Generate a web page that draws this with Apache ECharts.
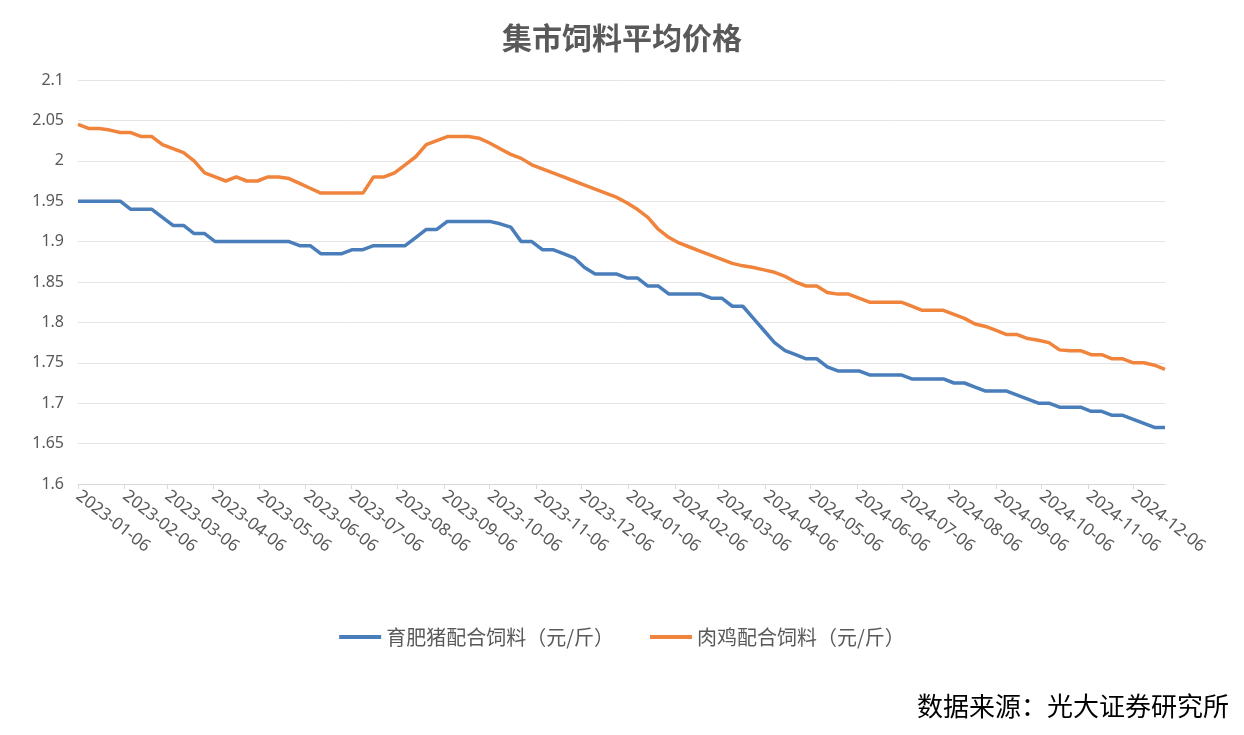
<!DOCTYPE html>
<html lang="zh">
<head>
<meta charset="UTF-8">
<title>集市饲料平均价格</title>
<style>html,body{margin:0;padding:0;background:#fff}</style>
</head>
<body>
<div id="chart" style="width:1244px;height:735px;"></div>
<script src="https://cdn.jsdelivr.net/npm/echarts@6/dist/echarts.min.js"></script>
<script>
var startDate = '2023-01-06';
var endDate = '2024-12-27';
// weekly values, every Friday from 2023-01-06
var pig = [1.95,1.95,1.95,1.95,1.95,1.94,1.94,1.94,1.93,1.92,1.92,1.91,1.91,1.90,1.90,1.90,1.90,1.90,1.90,1.90,1.90,1.895,1.895,1.885,1.885,1.885,1.89,1.89,1.895,1.895,1.895,1.895,1.905,1.915,1.915,1.925,1.925,1.925,1.925,1.925,1.922,1.918,1.90,1.90,1.89,1.89,1.885,1.88,1.868,1.86,1.86,1.86,1.855,1.855,1.845,1.845,1.835,1.835,1.835,1.835,1.83,1.83,1.82,1.82,1.805,1.79,1.775,1.765,1.76,1.755,1.755,1.745,1.74,1.74,1.74,1.735,1.735,1.735,1.735,1.73,1.73,1.73,1.73,1.725,1.725,1.72,1.715,1.715,1.715,1.71,1.705,1.70,1.70,1.695,1.695,1.695,1.69,1.69,1.685,1.685,1.68,1.675,1.67,1.67];
var chicken = [2.045,2.04,2.04,2.038,2.035,2.035,2.03,2.03,2.02,2.015,2.01,2.0,1.985,1.98,1.975,1.98,1.975,1.975,1.98,1.98,1.978,1.972,1.966,1.96,1.96,1.96,1.96,1.96,1.98,1.98,1.985,1.995,2.005,2.02,2.025,2.03,2.03,2.03,2.028,2.022,2.015,2.008,2.003,1.995,1.99,1.985,1.98,1.975,1.97,1.965,1.96,1.955,1.948,1.94,1.93,1.915,1.905,1.898,1.893,1.888,1.883,1.878,1.873,1.87,1.868,1.865,1.862,1.857,1.85,1.845,1.845,1.837,1.835,1.835,1.83,1.825,1.825,1.825,1.825,1.82,1.815,1.815,1.815,1.81,1.805,1.798,1.795,1.79,1.785,1.785,1.78,1.778,1.775,1.766,1.765,1.765,1.76,1.76,1.755,1.755,1.75,1.75,1.747,1.742];
var seriesNames = ['育肥猪配合饲料（元/斤）', '肉鸡配合饲料（元/斤）'];

// daily category axis so monthly labels land on the 6th
function fmt(d) {
  var m = d.getUTCMonth() + 1, day = d.getUTCDate();
  return d.getUTCFullYear() + '-' + (m < 10 ? '0' + m : m) + '-' + (day < 10 ? '0' + day : day);
}
var days = [];
var d = new Date(startDate + 'T00:00:00Z');
var end = new Date(endDate + 'T00:00:00Z');
while (d <= end) { days.push(fmt(d)); d = new Date(d.getTime() + 86400000); }

function toDaily(weekly) {
  return days.map(function (s, i) { return i % 7 === 0 ? weekly[i / 7] : null; });
}
function isLabelDay(idx, val) { return val.slice(8) === '06'; }

var chart = echarts.init(document.getElementById('chart'));
chart.setOption({
  animation: false,
  title: [{
    text: '集市饲料平均价格', left: 'center', top: 18,
    textStyle: { fontFamily: 'Noto Sans CJK SC', fontSize: 30, fontWeight: 'bold', color: '#595959' }
  }, {
    text: '数据来源：光大证券研究所', right: 10, top: 688,
    textStyle: { fontFamily: 'Noto Sans CJK SC', fontSize: 26, fontWeight: 'normal', color: '#000' }
  }],
  legend: {
    top: 622, left: 'center', itemWidth: 42, itemHeight: 4, itemGap: 36,
    icon: 'rect',
    textStyle: { fontFamily: 'Noto Sans CJK SC', fontSize: 20, color: '#595959' },
    data: seriesNames
  },
  grid: { left: 78, right: 79, top: 80, bottom: 251 },
  xAxis: {
    type: 'category', data: days, boundaryGap: false,
    axisLine: { lineStyle: { color: '#d9d9d9' } },
    axisTick: { show: true, interval: isLabelDay, lineStyle: { color: '#d9d9d9' } },
    axisLabel: { interval: isLabelDay, rotate: -38, color: '#595959', fontSize: 17, fontFamily: 'Noto Sans', margin: 10 },
    splitLine: { show: false }
  },
  yAxis: {
    type: 'value', min: 1.6, max: 2.1, interval: 0.05,
    axisLine: { show: false }, axisTick: { show: false },
    axisLabel: { color: '#595959', fontSize: 16, fontFamily: 'Noto Sans', margin: 14 },
    splitLine: { lineStyle: { color: '#e4e4e4' } }
  },
  series: [{
    name: seriesNames[0], type: 'line', data: toDaily(pig), connectNulls: true,
    showSymbol: false, symbol: 'none', lineStyle: { width: 3.5, color: '#4a7ebb' }, itemStyle: { color: '#4a7ebb' }
  }, {
    name: seriesNames[1], type: 'line', data: toDaily(chicken), connectNulls: true,
    showSymbol: false, symbol: 'none', lineStyle: { width: 3.5, color: '#f0843c' }, itemStyle: { color: '#f0843c' }
  }]
});
</script>
</body>
</html>
